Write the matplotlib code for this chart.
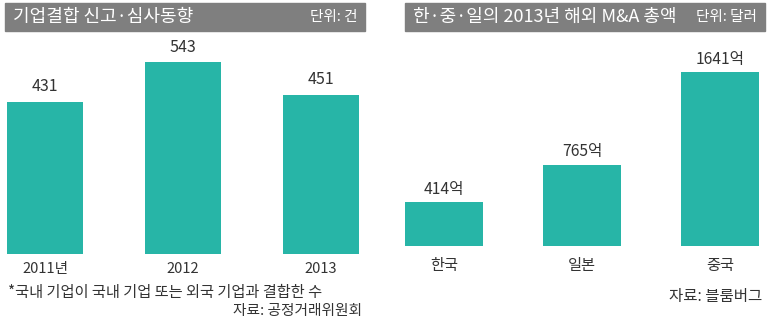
import matplotlib
matplotlib.use("Agg")
import matplotlib.pyplot as plt
from matplotlib.patches import Rectangle

plt.rcParams['font.family'] = ['Noto Sans CJK KR', 'DejaVu Sans']

# Data
left_title = "기업결합 신고·심사동향"
left_unit = "단위: 건"
left_cats = ["2011년", "2012", "2013"]
left_vals = [431, 543, 451]
left_note = "*국내 기업이 국내 기업 또는 외국 기업과 결합한 수"
left_src = "자료: 공정거래위원회"

right_title = "한·중·일의 2013년 해외 M&A 총액"
right_unit = "단위: 달러"
right_cats = ["한국", "일본", "중국"]
right_vals = [414, 765, 1641]
right_suffix = "억"
right_src = "자료: 블룸버그"

W, H = 767, 324
BAR = "#27b5a7"
TXT = "#333333"
HDR = "#7f7f7f"

fig = plt.figure(figsize=(W / 100, H / 100), dpi=100)

def px_axes(x0, y_top, x1, y_bot):
    return fig.add_axes([x0 / W, 1 - y_bot / H, (x1 - x0) / W, (y_bot - y_top) / H])

def setup(ax, c0, spacing, x0, x1, base, top_y, scale):
    ax.set_xlim(-(c0 - x0) / spacing, (x1 - c0) / spacing)
    ax.set_ylim(0, (base - top_y) / scale)
    for s in ax.spines.values():
        s.set_visible(False)
    ax.set_yticks([])
    ax.tick_params(axis='x', length=0, colors=TXT)

# Left panel
axL = px_axes(0, 40, 383, 254)
setup(axL, 45, 138, 0, 383, 254, 40, 0.3527)
xs = range(len(left_vals))
axL.bar(xs, left_vals, width=0.555, color=BAR)
for x, v in zip(xs, left_vals):
    axL.annotate(f"{v}", (x, v), xytext=(0, 15), textcoords='offset pixels',
                 ha='center', va='center', fontsize=11.5, color=TXT)
axL.set_xticks(list(xs))
axL.set_xticklabels(left_cats, fontsize=10.5)
axL.tick_params(axis='x', pad=6)

# Right panel
axR = px_axes(385, 40, 767, 246)
setup(axR, 444, 138, 385, 767, 246, 40, 0.106)
xs = range(len(right_vals))
axR.bar(xs, right_vals, width=0.56, color=BAR)
for x, v in zip(xs, right_vals):
    axR.annotate(f"{v}{right_suffix}", (x, v), xytext=(0, 13), textcoords='offset pixels',
                 ha='center', va='center', fontsize=11.3, color=TXT)
axR.set_xticks(list(xs))
axR.set_xticklabels(right_cats, fontsize=11)
axR.tick_params(axis='x', pad=8)

# Overlay for headers and notes (pixel coordinates)
ov = fig.add_axes([0, 0, 1, 1], zorder=-1)
ov.set_xlim(0, W)
ov.set_ylim(H, 0)
ov.axis('off')
ov.add_patch(Rectangle((5, 3), 360, 28, color=HDR))
ov.add_patch(Rectangle((405, 3), 360, 28, color=HDR))
ov.text(13, 17, left_title, color='white', fontsize=13, ha='left', va='center')
ov.text(358, 17, left_unit, color='white', fontsize=10.5, ha='right', va='center')
ov.text(413, 17, right_title, color='white', fontsize=13, ha='left', va='center')
ov.text(757, 17, right_unit, color='white', fontsize=10.5, ha='right', va='center')

ov.text(8, 293, left_note, color=TXT, fontsize=11, ha='left', va='center')
ov.text(362, 311, left_src, color=TXT, fontsize=10.6, ha='right', va='center')
ov.text(762, 296, right_src, color=TXT, fontsize=11.2, ha='right', va='center')

fig.savefig("out.png", dpi=100)
